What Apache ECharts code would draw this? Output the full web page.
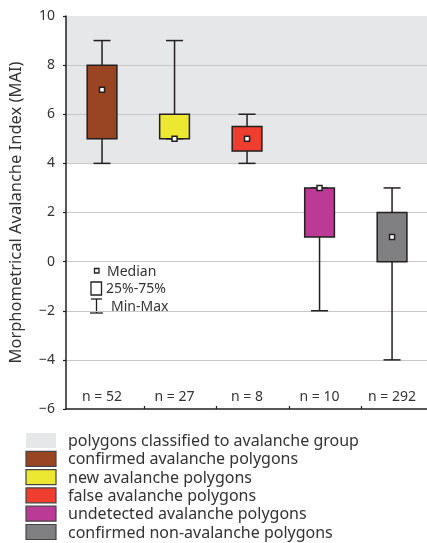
<!DOCTYPE html>
<html><head><meta charset="utf-8">
<script src="https://cdn.jsdelivr.net/npm/echarts@6/dist/echarts.min.js"></script>
<style>html,body{margin:0;padding:0;background:#fff}#c{width:427px;height:543px}</style>
</head><body><div id="c"></div>
<script>
const categories = ['confirmed avalanche polygons', 'new avalanche polygons', 'false avalanche polygons', 'undetected avalanche polygons', 'confirmed non-avalanche polygons'];
const sampleSizes = [52, 27, 8, 10, 292];
const minValues = [4, 5, 4, -2, -4];
const q1Values = [5, 5, 4.5, 1, 0];
const medianValues = [7, 5, 5, 3, 1];
const q3Values = [8, 6, 5.5, 3, 2];
const maxValues = [9, 9, 6, 3, 3];
const boxColors = ['#9a4522', '#ece731', '#ef3e2f', '#bb3a96', '#808083'];
const avalancheGroupRange = [4, 10];
const yTickValues = [-6, -4, -2, 0, 2, 4, 6, 8, 10];
const bandLabel = 'polygons classified to avalanche group';
const yAxisTitle = 'Morphometrical Avalanche Index (MAI)';

const FONT = '"Noto Sans", sans-serif';
const INK = '#231f20';
const TXT = '#333333';

const boxData = categories.map((c, i) => [i, minValues[i], q1Values[i], medianValues[i], q3Values[i], maxValues[i]]);

function renderBox(params, api) {
  const i = api.value(0);
  const pMin = api.coord([i, api.value(1)]);
  const pQ1 = api.coord([i, api.value(2)]);
  const pMed = api.coord([i, api.value(3)]);
  const pQ3 = api.coord([i, api.value(4)]);
  const pMax = api.coord([i, api.value(5)]);
  const halfBox = api.size([0.41, 0])[0] / 2;
  const halfCap = api.size([0.235, 0])[0] / 2;
  const x = pMed[0];
  const stroke = {stroke: INK, lineWidth: 1.5};
  const children = [
    {type: 'line', shape: {x1: x, y1: pMin[1], x2: x, y2: pMax[1]}, style: stroke},
    {type: 'line', shape: {x1: x - halfCap, y1: pMin[1], x2: x + halfCap, y2: pMin[1]}, style: stroke},
    {type: 'line', shape: {x1: x - halfCap, y1: pMax[1], x2: x + halfCap, y2: pMax[1]}, style: stroke},
    {type: 'rect', shape: {x: x - halfBox, y: pQ3[1], width: 2 * halfBox, height: pQ1[1] - pQ3[1]},
      style: {fill: boxColors[params.dataIndex], stroke: INK, lineWidth: 1.5}},
    {type: 'rect', shape: {x: x - 2.5, y: pMed[1] - 2.5, width: 5, height: 5},
      style: {fill: '#ffffff', stroke: INK, lineWidth: 1.5}}
  ];
  return {type: 'group', children};
}

function renderBand(params, api) {
  const cs = params.coordSys;
  const top = api.coord([0, api.value(1)])[1];
  const bottom = api.coord([0, api.value(0)])[1];
  return {type: 'rect', shape: {x: cs.x, y: top, width: cs.width, height: bottom - top}, style: {fill: '#e6e7e8'}};
}

const legendItems = [{name: bandLabel, color: '#e6e7e8', border: false}]
  .concat(categories.map((c, i) => ({name: c, color: boxColors[i], border: true})));

const graphics = [];
legendItems.forEach((it, k) => {
  const cy = 440.5 + k * 18.3;
  graphics.push({type: 'rect', shape: {x: 26, y: cy - 7.5, width: 30, height: 15},
    style: {fill: it.color, stroke: it.border ? '#444' : null, lineWidth: it.border ? 1.2 : 0}});
  graphics.push({type: 'text', x: 68, y: cy + 1, style: {text: it.name, font: '16px ' + FONT, fill: TXT, textVerticalAlign: 'middle'}});
});
// inner key
graphics.push({type: 'rect', shape: {x: 94.5, y: 268.5, width: 4.5, height: 4.5}, style: {fill: '#fff', stroke: INK, lineWidth: 1.3}});
graphics.push({type: 'text', x: 107, y: 272, style: {text: 'Median', font: '14px ' + FONT, fill: TXT, textVerticalAlign: 'middle'}});
graphics.push({type: 'rect', shape: {x: 91, y: 282, width: 10.5, height: 13}, style: {fill: '#fff', stroke: INK, lineWidth: 1.3}});
graphics.push({type: 'text', x: 106, y: 289.5, style: {text: '25%-75%', font: '14px ' + FONT, fill: TXT, textVerticalAlign: 'middle'}});
graphics.push({type: 'polyline', shape: {points: [[91, 299], [102, 299]]}, style: {stroke: INK, lineWidth: 1.3}});
graphics.push({type: 'polyline', shape: {points: [[96.5, 299], [96.5, 313]]}, style: {stroke: INK, lineWidth: 1.3}});
graphics.push({type: 'polyline', shape: {points: [[90, 313], [103, 313]]}, style: {stroke: INK, lineWidth: 1.3}});
graphics.push({type: 'text', x: 111, y: 307, style: {text: 'Min-Max', font: '14px ' + FONT, fill: TXT, textVerticalAlign: 'middle'}});

const chart = echarts.init(document.getElementById('c'));
chart.setOption({
  animation: false,
  backgroundColor: '#ffffff',
  grid: {left: 64.5, right: 0, top: 16, bottom: 134, containLabel: false},
  xAxis: {
    type: 'value', min: -0.497, max: 4.482, z: 1,
    axisLine: {show: true, onZero: false, lineStyle: {color: INK, width: 1.5}},
    axisTick: {show: true, inside: true, length: 3, customValues: [0.577, 1.577, 2.577, 3.577], lineStyle: {color: INK, width: 1.2}},
    axisLabel: {show: true, inside: true, margin: 5, customValues: [0, 1, 2, 3, 4],
      formatter: v => 'n = ' + sampleSizes[Math.round(v)], color: TXT, fontSize: 14, fontFamily: FONT},
    splitLine: {show: false}
  },
  yAxis: {
    type: 'value', min: -6, max: 10, interval: 2, z: 1,
    name: yAxisTitle, nameLocation: 'middle', nameGap: 41, nameRotate: 90,
    nameTextStyle: {color: TXT, fontSize: 16.5, fontFamily: FONT},
    axisLine: {show: true, onZero: false, lineStyle: {color: INK, width: 1.5}},
    axisTick: {show: true, length: 3, lineStyle: {color: INK, width: 1.2}},
    axisLabel: {color: TXT, fontSize: 14, fontFamily: FONT, margin: 11,
      formatter: v => String(v).replace('-', '\u2212')},
    splitLine: {show: true, showMinLine: false, showMaxLine: false, lineStyle: {color: '#c8c8c8', width: 1}}
  },
  series: [
    {type: 'custom', z: 0, silent: true, renderItem: renderBand, data: [avalancheGroupRange], encode: {x: -1, y: [0, 1]}},
    {type: 'custom', z: 2, renderItem: renderBox, data: boxData, encode: {x: 0, y: [1, 2, 3, 4, 5]}}
  ],
  graphic: graphics
});
</script>
</body></html>
